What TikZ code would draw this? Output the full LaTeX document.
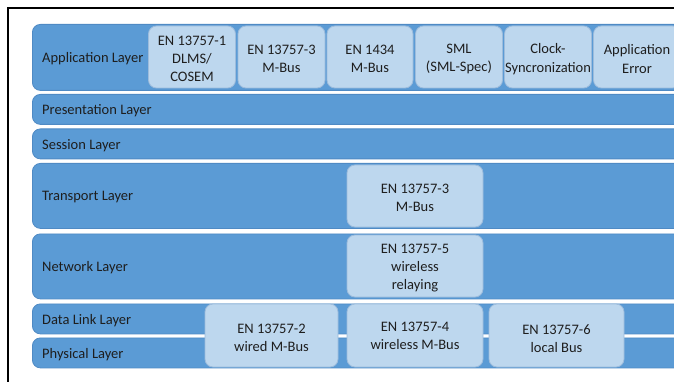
\documentclass[tikz,border=0pt]{standalone}
\usepackage{fontspec}
\setmainfont{Carlito}
\definecolor{barblue}{HTML}{5B9BD5}
\definecolor{barline}{HTML}{4F8AC4}
\definecolor{subfill}{HTML}{BDD7EE}
\definecolor{subline}{HTML}{9DBCDC}
\definecolor{txt}{HTML}{1E1E1E}
\newcommand{\lyr}{\fontsize{14.5}{18.3}\selectfont}
\begin{document}
\begin{tikzpicture}[x=1pt,y=-1pt,
  bar/.style={draw=barline, fill=barblue, rounded corners=8pt, line width=0.8pt, minimum width=660pt, anchor=north west, inner sep=0pt},
  sub/.style={draw=subline, fill=subfill, rounded corners=8pt, line width=0.8pt, inner sep=0pt},
  subtxt/.style={align=center, font=\lyr, text=txt, inner sep=0pt, yshift=-2pt},
  lbl/.style={anchor=west, font=\lyr, text=txt, inner sep=0pt, yshift=-1.5pt}]
\useasboundingbox (0,0) rectangle (674,382);
\clip (0,0) rectangle (674,382);
\fill[white] (0,0) rectangle (674,382);
% layer bars
\node[bar, minimum height=66pt] (app) at (32,24) {};
\node[bar, minimum height=30pt] (pres) at (32,94) {};
\node[bar, minimum height=30pt] (sess) at (32,128.5) {};
\node[bar, minimum height=65pt] (trans) at (32,163) {};
\node[bar, minimum height=65pt] (net) at (32,233.5) {};
\node[bar, minimum height=30pt] (dll) at (32,303.5) {};
\node[bar, minimum height=30pt] (phy) at (32,337.5) {};
% labels
\node[lbl] (appl) at ([xshift=10pt]app.west) {Application Layer};
\node[lbl] (presl) at ([xshift=10pt]pres.west) {Presentation Layer};
\node[lbl] (sessl) at ([xshift=10pt]sess.west) {Session Layer};
\node[lbl] (transl) at ([xshift=10pt]trans.west) {Transport Layer};
\node[lbl] (netl) at ([xshift=10pt]net.west) {Network Layer};
\node[lbl] (dlll) at ([xshift=10pt]dll.west) {Data Link Layer};
\node[lbl] (phyl) at ([xshift=10pt]phy.west) {Physical Layer};
% application sub boxes
\node[sub, minimum width=87pt, minimum height=62pt, label={[subtxt]center:EN 13757-1\\DLMS/\\COSEM}] (a1) at (192,57) {};
\node[sub, minimum width=87pt, minimum height=62pt, label={[subtxt]center:EN 13757-3\\M-Bus}] (a2) at (281.5,57) {};
\node[sub, minimum width=86pt, minimum height=62pt, label={[subtxt]center:EN 1434\\M-Bus}] (a3) at (370,57) {};
\node[sub, minimum width=87pt, minimum height=62pt, label={[subtxt]center:SML\\(SML-Spec)}] (a4) at (459,57) {};
\node[sub, minimum width=87pt, minimum height=62pt, label={[subtxt]center:Clock-\\Syncronization}] (a5) at (548,57) {};
\node[sub, minimum width=87pt, minimum height=62pt, label={[subtxt]center:Application\\Error}] (a6) at (637,57) {};
% transport / network
\node[sub, minimum width=136pt, minimum height=62pt, label={[subtxt]center:EN 13757-3\\M-Bus}] (t1) at (415,196) {};
\node[sub, minimum width=136pt, minimum height=62pt, label={[subtxt]center:EN 13757-5\\wireless\\relaying}] (n1) at (415,266) {};
% data link / physical
\node[sub, minimum width=133pt, minimum height=63pt, label={[subtxt]center:EN 13757-2\\wired M-Bus}] (d1) at (271.5,335.5) {};
\node[sub, minimum width=136pt, minimum height=63pt, label={[subtxt, yshift=2pt]center:EN 13757-4\\wireless M-Bus}] (d2) at (415,335.5) {};
\node[sub, minimum width=135pt, minimum height=63pt, label={[subtxt, yshift=-1pt]center:EN 13757-6\\local Bus}] (d3) at (556.5,335.5) {};
% frame
\draw[line width=2.5pt, black] (8,383) -- (8,8) -- (675,8);
\end{tikzpicture}
\end{document}
